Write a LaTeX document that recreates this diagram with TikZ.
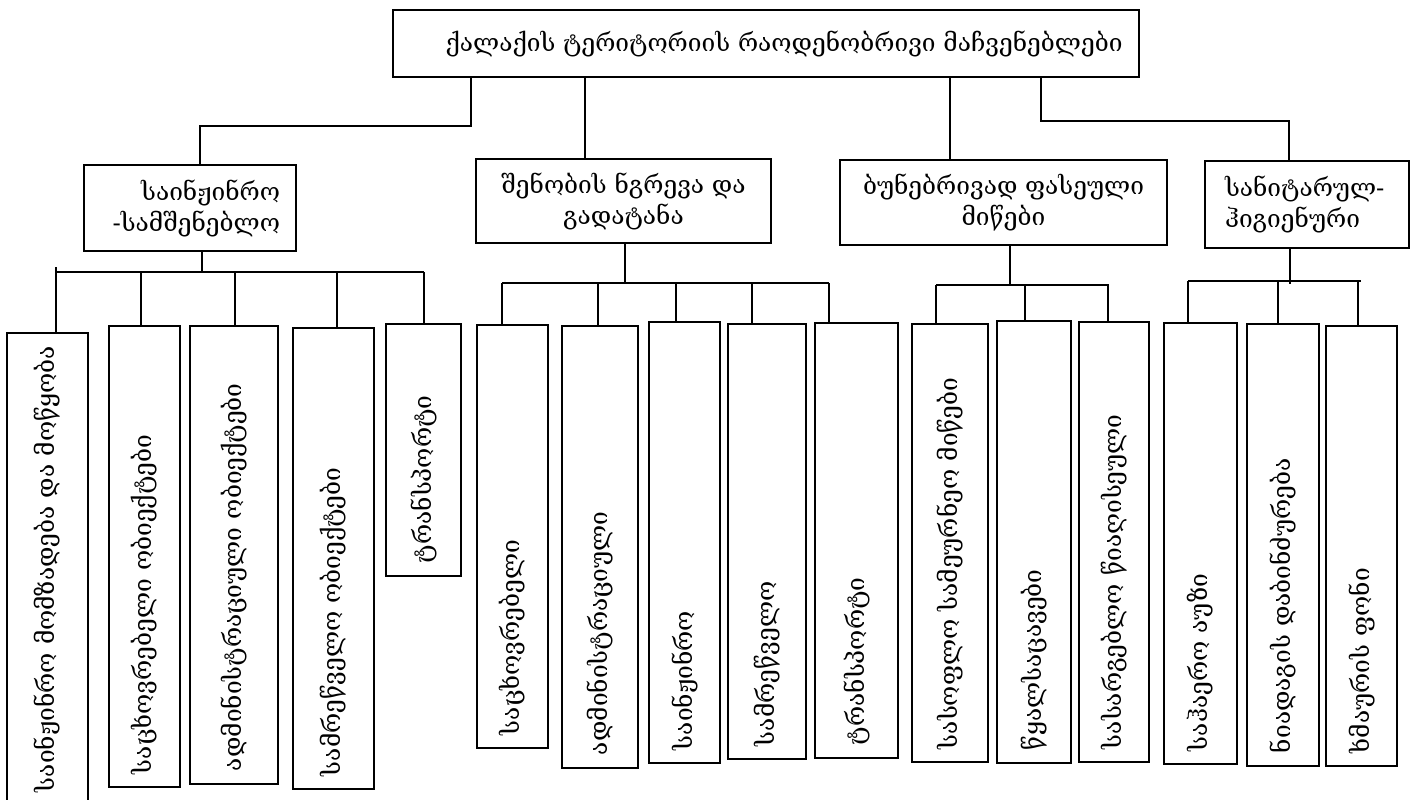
\documentclass[tikz,border=0pt]{standalone}
\usepackage{fontspec}
\setmainfont{DejaVu Serif}
\begin{document}
\begin{tikzpicture}[x=1pt,y=-1pt,
  every node/.style={font=\fontsize{24.5}{31}\selectfont},
  box/.style={draw, line width=1.6pt, inner sep=0pt},
  vbox/.style n args={3}{box, rotate=90, inner xsep=13pt, inner ysep=0pt, align=left,
     minimum width=#1pt, minimum height=#2pt, text width=#3pt},
  wire/.style={line width=1.6pt}]
\useasboundingbox (0,0) rectangle (1416,800);

% top
\node[box, minimum width=746pt, minimum height=67pt] (top) at (766,43.5)
  {\hspace*{36pt}ქალაქის ტერიტორიის რაოდენობრივი მაჩვენებლები};

% level 2
\node[box, minimum width=212pt, minimum height=86pt, text width=180pt, align=right] (A) at (190,208)
  {\mbox{საინჟინრო}\\\mbox{-სამშენებლო}};
\node[box, minimum width=295pt, minimum height=84pt, align=center] (B) at (623.5,201)
  {შენობის ნგრევა და\\გადატანა};
\node[box, minimum width=327pt, minimum height=85pt, align=center] (C) at (1003.5,202.5)
  {ბუნებრივად ფასეული\\მიწები};
\node[box, minimum width=204pt, minimum height=87pt, text width=164pt, align=left] (D) at (1307,204.5)
  {\mbox{სანიტარულ-}\\\mbox{ჰიგიენური}};

% level 3 (rotated)
\node[vbox={472}{81}{446}]  (b1)  at (47.5,569)   {\mbox{საინჟინრო მომზადება და მოწყობა}};
\node[vbox={461}{71}{435}]  (b2)  at (144.5,556.5) {\mbox{საცხოვრებელი ობიექტები}};
\node[vbox={458}{88}{432}]  (b3)  at (234,555)     {\mbox{ადმინისტრაციული ობიექტები}};
\node[vbox={461}{81}{435}]  (b4)  at (333.5,558.5) {\mbox{სამრეწველო ობიექტები}};
\node[vbox={252}{75}{226}]  (b5)  at (423.5,450)   {\mbox{ტრანსპორტი}};
\node[vbox={423}{71}{397}]  (b6)  at (512.5,536.5) {\mbox{საცხოვრებელი}};
\node[vbox={442}{76}{416}]  (b7)  at (600,547)     {\mbox{ადმინისტრაციული}};
\node[vbox={441}{71}{415}]  (b8)  at (684.5,542.5) {\mbox{საინჟინრო}};
\node[vbox={435}{78}{409}]  (b9)  at (767,541.5)   {\mbox{სამრეწველო}};
\node[vbox={435}{83}{409}]  (b10) at (856.5,540.5) {\mbox{ტრანსპორტი}};
\node[vbox={438}{76}{412}]  (b11) at (950,543)     {\mbox{სასოფლო სამეურნეო მიწები}};
\node[vbox={442}{74}{416}]  (b12) at (1034,542)    {\mbox{წყალსაცავები}};
\node[vbox={440}{70}{414}]  (b13) at (1114,542)    {\mbox{სასარგებლო წიაღისეული}};
\node[vbox={441}{73}{415}]  (b14) at (1200.5,543.5) {\mbox{საჰაერო აუზი}};
\node[vbox={442}{72}{416}]  (b15) at (1283,545)    {\mbox{ნიადაგის დაბინძურება}};
\node[vbox={440}{71}{414}]  (b16) at (1361.5,546)  {\mbox{ხმაურის ფონი}};

% connectors top -> level 2
\coordinate (j1) at (471,126); \coordinate (j1a) at (200,126);
\draw[wire] (top.south -| j1) -- (j1) -- (j1a) -- (A.north -| j1a);
\draw[wire] (top.south -| 585,0) -- (B.north -| 585,0);
\draw[wire] (top.south -| 950,0) -- (C.north -| 950,0);
\coordinate (j4) at (1041,121); \coordinate (j4a) at (1289,121);
\draw[wire] (top.south -| j4) -- (j4) -- (j4a) -- (D.north -| j4a);

% bus A
\coordinate (busA) at (202,272);
\coordinate (busAl) at (56,272); \coordinate (busAr) at (424,272);
\draw[wire] (A.south -| busA) -- (busA);
\draw[wire] (busAl) -- (busAr);
\draw[wire] ([yshift=5pt]busAl) -- (busAl);
\foreach \x/\n in {56/b1,141/b2,235/b3,337/b4,424/b5}
  \draw[wire] (\x,272) -- (\n.east -| \x,0);

% bus B
\coordinate (busB) at (625,283);
\coordinate (busBl) at (502,283); \coordinate (busBr) at (829,283);
\draw[wire] (B.south -| busB) -- (busB);
\draw[wire] (busBl) -- (busBr);
\foreach \x/\n in {502/b6,598/b7,676/b8,752/b9,829/b10}
  \draw[wire] (\x,283) -- (\n.east -| \x,0);

% bus C
\coordinate (busC) at (1010,285);
\coordinate (busCl) at (936,285); \coordinate (busCr) at (1109,285);
\draw[wire] (C.south -| busC) -- (busC);
\draw[wire] (busCl) -- (busCr);
\foreach \x/\n in {936/b11,1025/b12,1108/b13}
  \draw[wire] (\x,285) -- (\n.east -| \x,0);

% bus D
\coordinate (busD) at (1290,284);
\coordinate (busDl) at (1188,281); \coordinate (busDr) at (1361,281);
\draw[wire] (D.south -| busD) -- (busD);
\draw[wire] (busDl) -- (busDr);
\foreach \x/\n in {1188/b14,1278/b15,1358/b16}
  \draw[wire] (\x,281) -- (\n.east -| \x,0);
\end{tikzpicture}
\end{document}
